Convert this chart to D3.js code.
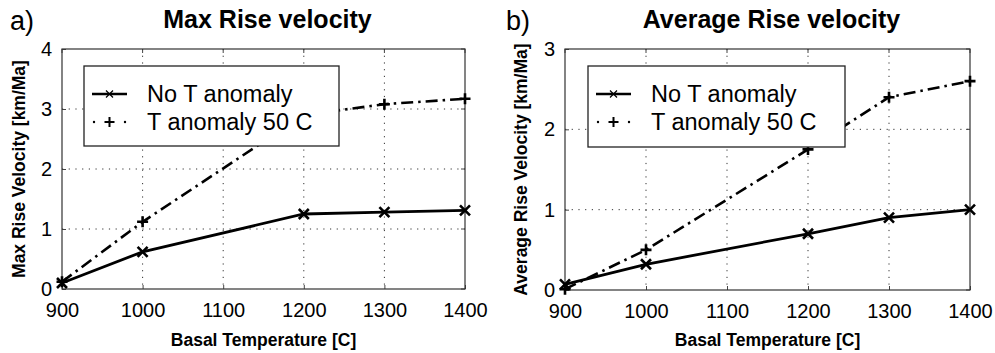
<!DOCTYPE html>
<html>
<head>
<meta charset="utf-8">
<script src="https://cdn.jsdelivr.net/npm/d3@7"></script>
<style>
  html, body { margin: 0; padding: 0; background: #fff; }
  svg { display: block; }
  text { font-family: "Liberation Sans", Arial, Helvetica, sans-serif; fill: #000; }
</style>
</head>
<body>
<svg id="chart" width="995" height="353"></svg>
<script>
// ---- data ----
const temperatures = [900, 1000, 1200, 1300, 1400];
const xTicks = [900, 1000, 1100, 1200, 1300, 1400];

const maxNoAnomaly = [0.10, 0.62, 1.25, 1.28, 1.31];
const maxAnomaly50 = [0.12, 1.12, 2.90, 3.08, 3.17];
const maxYTicks = [0, 1, 2, 3, 4];

const avgNoAnomaly = [0.07, 0.32, 0.70, 0.90, 1.00];
const avgAnomaly50 = [0.01, 0.50, 1.75, 2.40, 2.60];
const avgYTicks = [0, 1, 2, 3];

const seriesNames = ["No T anomaly", "T anomaly 50 C"];

const panels = [
  { tag: "a)", title: "Max Rise velocity", ylabel: "Max Rise Velocity [km/Ma]",
    s1: maxNoAnomaly, s2: maxAnomaly50, yTicks: maxYTicks, yMax: 4,
    box: { l: 62, r: 465, t: 49, b: 289 }, tagX: 10, ylabX: 25,
    legend: { x: 84, y: 66, w: 255, h: 80 } },
  { tag: "b)", title: "Average Rise velocity", ylabel: "Average Rise Velocity [km/Ma]",
    s1: avgNoAnomaly, s2: avgAnomaly50, yTicks: avgYTicks, yMax: 3,
    box: { l: 565, r: 970, t: 49, b: 290 }, tagX: 506, ylabX: 527,
    legend: { x: 588, y: 66, w: 257, h: 81 } }
];

const svg = d3.select("#chart");
const DASHDOT = "12,5,2.5,5";

function drawX(g, cx, cy, r, w) {
  g.append("path")
    .attr("d", `M${cx - r},${cy - r}L${cx + r},${cy + r}M${cx - r},${cy + r}L${cx + r},${cy - r}`)
    .attr("stroke", "#000").attr("stroke-width", w).attr("fill", "none");
}
function drawPlus(g, cx, cy, r, w) {
  g.append("path")
    .attr("d", `M${cx - r},${cy}L${cx + r},${cy}M${cx},${cy - r}L${cx},${cy + r}`)
    .attr("stroke", "#000").attr("stroke-width", w).attr("fill", "none");
}

panels.forEach(p => {
  const B = p.box;
  const x = d3.scaleLinear().domain([900, 1400]).range([B.l, B.r]);
  const y = d3.scaleLinear().domain([0, p.yMax]).range([B.b, B.t]);
  const g = svg.append("g");

  // grid
  g.append("g").selectAll("line").data(xTicks.slice(1, -1)).join("line")
    .attr("x1", d => x(d)).attr("x2", d => x(d)).attr("y1", B.t).attr("y2", B.b)
    .attr("stroke", "#333").attr("stroke-width", 1).attr("stroke-dasharray", "1.2,5.5");
  g.append("g").selectAll("line").data(p.yTicks.slice(1, -1)).join("line")
    .attr("y1", d => y(d)).attr("y2", d => y(d)).attr("x1", B.l).attr("x2", B.r)
    .attr("stroke", "#333").attr("stroke-width", 1).attr("stroke-dasharray", "1.2,5.5");

  // axes with D3
  const xAxis = d3.axisBottom(x).tickValues(xTicks).tickSize(-4).tickPadding(12).tickFormat(d3.format("d"));
  const xa = g.append("g").attr("transform", `translate(0,${B.b})`).call(xAxis);
  xa.select(".domain").remove();
  xa.selectAll("line").attr("stroke", "#444");
  xa.selectAll("text").attr("font-size", 20).attr("font-family", "'Liberation Sans', Arial, sans-serif")
    .attr("dy", "0.71em").attr("y", 14);

  const yAxis = d3.axisLeft(y).tickValues(p.yTicks).tickSize(-4).tickPadding(10).tickFormat(d3.format("d"));
  const ya = g.append("g").attr("transform", `translate(${B.l},0)`).call(yAxis);
  ya.select(".domain").remove();
  ya.selectAll("line").attr("stroke", "#444");
  ya.selectAll("text").attr("font-size", 20).attr("font-family", "'Liberation Sans', Arial, sans-serif");

  // top/right ticks
  g.append("g").selectAll("line").data(xTicks).join("line")
    .attr("x1", d => x(d)).attr("x2", d => x(d)).attr("y1", B.t).attr("y2", B.t + 4)
    .attr("stroke", "#444");
  g.append("g").selectAll("line").data(p.yTicks).join("line")
    .attr("y1", d => y(d)).attr("y2", d => y(d)).attr("x1", B.r).attr("x2", B.r - 4)
    .attr("stroke", "#444");

  // box
  g.append("rect").attr("x", B.l).attr("y", B.t).attr("width", B.r - B.l).attr("height", B.b - B.t)
    .attr("fill", "none").attr("stroke", "#333").attr("stroke-width", 1.2);

  // lines
  const line = d3.line().x((d, i) => x(temperatures[i])).y(d => y(d));
  g.append("path").datum(p.s2).attr("d", line).attr("fill", "none")
    .attr("stroke", "#000").attr("stroke-width", 2.6).attr("stroke-dasharray", DASHDOT);
  g.append("path").datum(p.s1).attr("d", line).attr("fill", "none")
    .attr("stroke", "#000").attr("stroke-width", 2.8);
  p.s2.forEach((v, i) => drawPlus(g, x(temperatures[i]), y(v), 5.5, 2.6));
  p.s1.forEach((v, i) => drawX(g, x(temperatures[i]), y(v), 5, 2.6));

  // legend
  const L = p.legend;
  const lg = g.append("g");
  lg.append("rect").attr("x", L.x).attr("y", L.y).attr("width", L.w).attr("height", L.h)
    .attr("fill", "#fff").attr("stroke", "#222").attr("stroke-width", 1.3);
  const sx0 = L.x + 8, sx1 = L.x + 43, scx = (sx0 + sx1) / 2;
  const r1 = L.y + 28, r2 = L.y + 56;
  lg.append("line").attr("x1", sx0).attr("x2", sx1).attr("y1", r1).attr("y2", r1)
    .attr("stroke", "#000").attr("stroke-width", 2.6);
  drawX(lg, scx, r1, 3.5, 1.2);
  lg.append("circle").attr("cx", sx0 + 2).attr("cy", r2).attr("r", 1.2).attr("fill", "#000");
  lg.append("circle").attr("cx", sx1 - 2).attr("cy", r2).attr("r", 1.2).attr("fill", "#000");
  drawPlus(lg, scx, r2, 5, 2);
  lg.append("text").attr("x", L.x + 63).attr("y", r1 + 8).attr("font-size", 23.5).text(seriesNames[0]);
  lg.append("text").attr("x", L.x + 63).attr("y", r2 + 8).attr("font-size", 23.5).text(seriesNames[1]);

  // titles and labels
  g.append("text").attr("x", (B.l + B.r) / 2 + 4).attr("y", 28).attr("text-anchor", "middle")
    .attr("font-size", 25).attr("font-weight", "bold").text(p.title);
  g.append("text").attr("x", p.tagX).attr("y", 30).attr("font-size", 27).text(p.tag);
  g.append("text").attr("x", (B.l + B.r) / 2).attr("y", 346).attr("text-anchor", "middle")
    .attr("font-size", 17.5).attr("font-weight", "bold").text("Basal Temperature [C]");
  g.append("text").attr("transform", `translate(${p.ylabX},${(B.t + B.b) / 2}) rotate(-90)`)
    .attr("text-anchor", "middle").attr("font-size", 17.5).attr("font-weight", "bold").text(p.ylabel);
});
</script>
</body>
</html>
